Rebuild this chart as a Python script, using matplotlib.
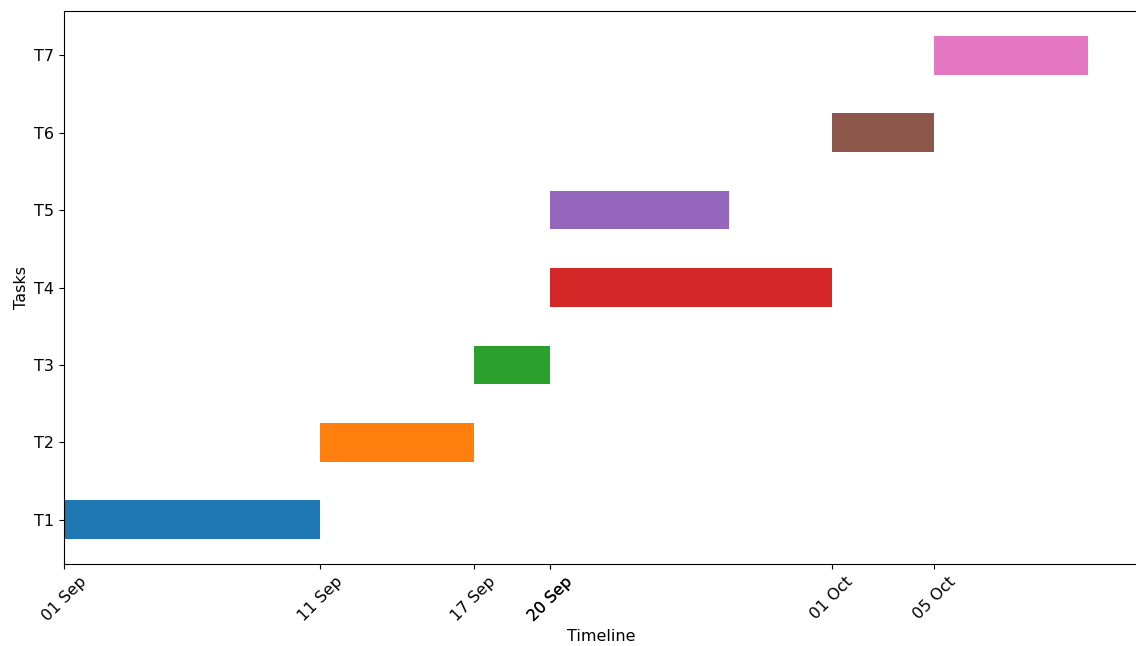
import datetime as dt
import matplotlib
matplotlib.use("Agg")
import matplotlib.pyplot as plt
import matplotlib.dates as mdates

# ---- Task data ----
tasks = ["T1", "T2", "T3", "T4", "T5", "T6", "T7"]
starts = ["2024-09-01", "2024-09-11", "2024-09-17", "2024-09-20",
          "2024-09-20", "2024-10-01", "2024-10-05"]
ends = ["2024-09-11", "2024-09-17", "2024-09-20", "2024-10-01",
        "2024-09-27", "2024-10-05", "2024-10-11"]

start_d = [dt.datetime.strptime(s, "%Y-%m-%d") for s in starts]
end_d = [dt.datetime.strptime(e, "%Y-%m-%d") for e in ends]

plt.rcParams["font.size"] = 11.5

fig = plt.figure(figsize=(11.36, 6.46), dpi=100)
ax = fig.add_axes([64 / 1136, 1 - 564 / 646, 1075 / 1136, 553 / 646])

colors = plt.rcParams["axes.prop_cycle"].by_key()["color"]
for i, (t, s, e) in enumerate(zip(tasks, start_d, end_d)):
    left = mdates.date2num(s)
    width = mdates.date2num(e) - left
    ax.barh(t, width, left=left, height=0.5, color=colors[i % len(colors)])

# ticks at each task start (20 Sep appears twice)
ax.set_xticks([mdates.date2num(s) for s in start_d])
ax.xaxis.set_major_formatter(mdates.DateFormatter("%d %b"))
plt.setp(ax.get_xticklabels(), rotation=45)
ax.set_xlim(mdates.date2num(start_d[0]), mdates.date2num(dt.datetime(2024, 10, 13)))

ax.set_xlabel("Timeline")
ax.set_ylabel("Tasks")

fig.savefig("out.png", dpi=100)
